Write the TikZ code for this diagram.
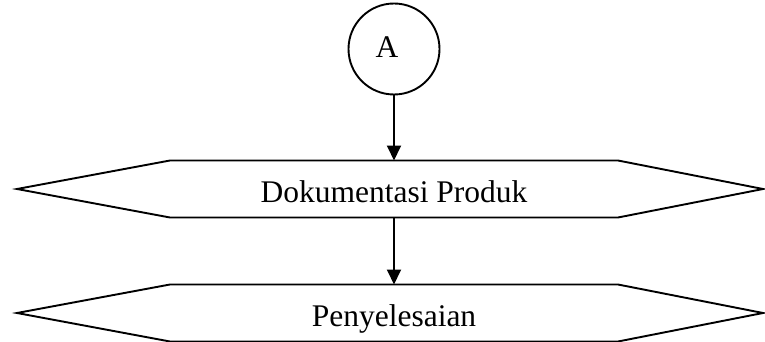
\documentclass[tikz,border=0pt]{standalone}
\usepackage{fontspec}
\setmainfont{Liberation Serif}
\usetikzlibrary{arrows.meta}

\tikzset{
  flowline/.style={line width=1.9pt, draw=black},
  connector/.style={circle, flowline, minimum size=91pt, inner sep=0pt, outer sep=0pt},
  labeltext/.style={font=\fontsize{31.5}{36}\selectfont, inner sep=0pt},
  hexbody/.style={labeltext, minimum width=448pt, minimum height=57pt,
                  text height=26pt, text depth=0pt, outer sep=0pt},
  flowarrow/.style={flowline, -{Triangle[width=14pt,length=15pt]}},
}

% hexagonal preparation symbol drawn around a text node
\newcommand{\prepshape}[1]{%
  \draw[flowline, line join=miter]
    (#1.north west) -- (#1.north east) -- ([xshift=145pt]#1.east)
    -- (#1.south east) -- (#1.south west) -- ([xshift=-153pt]#1.west) -- cycle;}

\begin{document}
\begin{tikzpicture}[x=1pt,y=-1pt]
  \useasboundingbox (0,0) rectangle (765,342);

  % off-page connector
  \node[connector] (conA) at (394,49) {};
  \node[labeltext] (conAtext) at (387,47) {A};

  % preparation steps
  \node[hexbody] (doc) at (394,189) {Dokumentasi Produk};
  \prepshape{doc}
  \node[hexbody] (done) at (394,313) {Penyelesaian};
  \prepshape{done}

  % flow
  \draw[flowarrow] (conA.south) -- (doc.north);
  \draw[flowarrow] (doc.south) -- (done.north);
\end{tikzpicture}
\end{document}
